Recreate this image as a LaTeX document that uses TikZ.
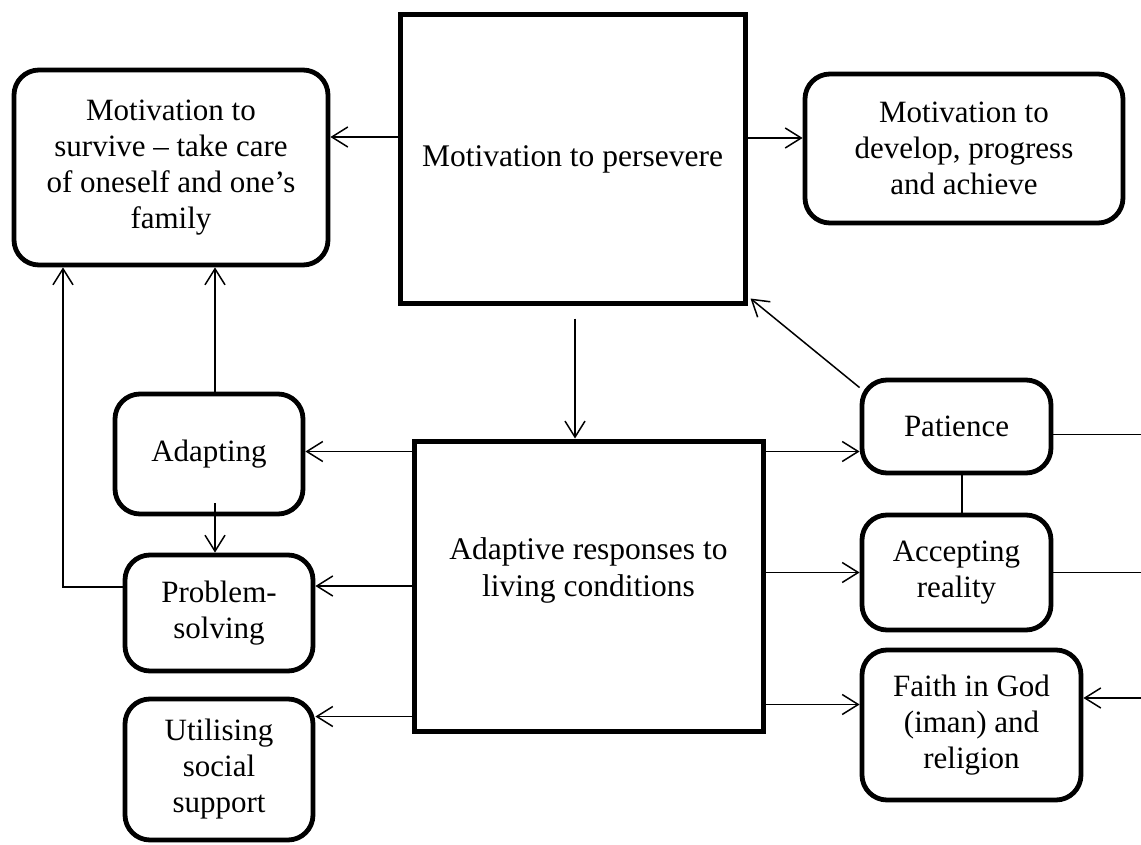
\documentclass[tikz,border=0pt]{standalone}
\usepackage{fontspec}
\setmainfont{Liberation Serif}
\usetikzlibrary{arrows.meta}

\begin{document}
\begin{tikzpicture}[x=1pt,y=-1pt,  % 1 unit = 1 px of the reference, y down
  mainbox/.style={draw,line width=5pt,inner sep=0pt,align=center,font=\fontsize{31.5}{37}\selectfont},
  subbox/.style={draw,line width=4.8pt,rounded corners=25pt,inner sep=0pt,align=center,font=\fontsize{31}{36}\selectfont},
  link/.style={line width=1.5pt},
  >={Straight Barb[length=16pt,width=20pt]}]
  \useasboundingbox (0,0) rectangle (1141,845);
  % ---- top row
  \node[mainbox,minimum width=345pt,minimum height=288pt] (persevere) at (572.5,159) {Motivation to persevere};
  \node[subbox,minimum width=314pt,minimum height=195pt] (survive) at (171,167.5)
    {Motivation to\\survive – take care\\of oneself and one’s\\family};
  \node[subbox,minimum width=318pt,minimum height=149pt] (develop) at (964,148.5)
    {Motivation to\\develop, progress\\and achieve};
  % ---- centre box
  \node[mainbox,minimum width=349pt,minimum height=290pt,
    label={[font=\fontsize{31.5}{37}\selectfont,align=center,yshift=16pt]center:{Adaptive responses to\\living conditions}}]
    (adaptive) at (588.5,586) {};
  % ---- left column
  \node[subbox,minimum width=188pt,minimum height=120pt] (adapting) at (209,454) {Adapting};
  \node[subbox,minimum width=188pt,minimum height=116pt] (problem) at (219,613) {Problem-\\solving};
  \node[subbox,minimum width=188pt,minimum height=141pt] (utilising) at (219,769.5) {Utilising\\social\\support};
  % ---- right column
  \node[subbox,minimum width=189pt,minimum height=93pt] (patience) at (956.5,426.5) {Patience};
  \node[subbox,minimum width=189pt,minimum height=115pt] (accepting) at (956.5,572.5) {Accepting\\reality};
  \node[subbox,minimum width=219pt,minimum height=150pt] (faith) at (971.5,725) {Faith in God\\(iman) and\\religion};

  % ---- arrows out of the top box
  \coordinate (p1) at ([yshift=22pt]persevere.west);
  \coordinate (p2) at ([yshift=21pt]persevere.east);
  \coordinate (p3) at ([xshift=2.5pt,yshift=-13pt]persevere.south);
  \draw[link,->] (p1) -- (p1 -| survive.east);
  \draw[link,->] (p2) -- (p2 -| develop.west);
  \draw[link,->] (p3) -- (p3 |- adaptive.north);
  % ---- arrows out of the centre box
  \coordinate (a1) at ([yshift=-13pt]adaptive.north west);
  \coordinate (a2) at ([yshift=17pt]adaptive.south west);
  \coordinate (a3) at ([yshift=-13pt]adaptive.north east);
  \coordinate (a4) at ([yshift=29pt]adaptive.south east);
  \draw[link,->] (a1) -- (a1 -| adapting.east);
  \draw[link,->] (adaptive.west) -- (adaptive.west -| problem.east);
  \draw[link,->] (a2) -- (a2 -| utilising.east);
  \draw[link,->] (a3) -- (a3 -| patience.west);
  \draw[link,->] (adaptive.east |- accepting.west) -- (accepting.west);
  \draw[link,->] (a4) -- (a4 -| faith.west);
  % ---- left column links
  \coordinate (l1) at ([xshift=6pt]adapting.north);
  \coordinate (l2) at ([xshift=6pt,yshift=13pt]adapting.south);
  \coordinate (l3) at ([yshift=26pt]problem.west);
  \coordinate (l4) at ([xshift=-108pt]survive.south);
  \draw[link,->] (l1) -- (l1 |- survive.south);
  \draw[link,->] (l2) -- (l2 |- problem.north);
  \draw[link,->] (l3) -| (l4);
  % ---- right column links
  \coordinate (edge) at (1141,0);
  \coordinate (r1) at ([yshift=-8pt]patience.east);
  \coordinate (r2) at ([yshift=27pt]faith.east);
  \draw[link] ([xshift=5.5pt]patience.south) -- ([xshift=5.5pt]accepting.north);
  \draw[link] (r1) -- (r1 -| edge);
  \draw[link] (accepting.east) -- (accepting.east -| edge);
  \draw[link,->] (r2 -| edge) -- (r2);
  \draw[link,->] ([yshift=-10pt]patience.north west) -- ([xshift=3pt,yshift=7pt]persevere.south east);
\end{tikzpicture}
\end{document}
